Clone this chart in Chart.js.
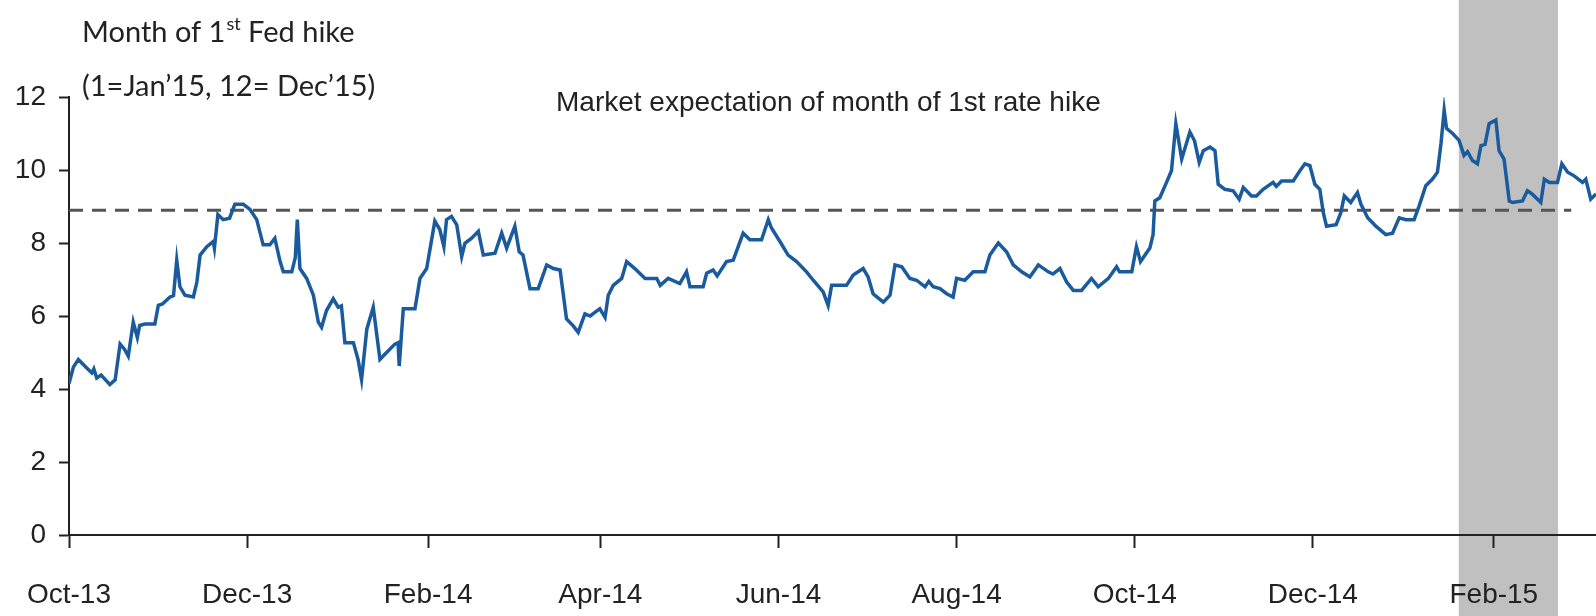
<!DOCTYPE html>
<html>
<head>
<meta charset="utf-8">
<script src="https://cdn.jsdelivr.net/npm/chart.js@4.4.1/dist/chart.umd.min.js"></script>
<style>
html,body{margin:0;padding:0;background:#fff;overflow:hidden}
#wrap{width:1596px;height:616px;position:relative;background:#fff}
</style>
</head>
<body>
<div id="wrap"><canvas id="c" width="1596" height="616"></canvas></div>
<script>
// x = days since 1 Oct 2013
const dayOffsets = [
  0,1.5,3.2,6,7.8,8.5,9.5,11,14,15.8,17.5,19,20.3,22,23.4,24.2,26,29.4,30.6,32,
  34.6,35.8,36.9,38,39.7,42.6,43.8,44.9,47.2,49.4,49.8,51,52.8,55,56.8,59.7,62,64.3,66.5,68.8,
  70.5,72.3,73.4,76.3,77.5,78.2,79.1,81.4,83.7,85.4,86.5,88.2,90.5,92.2,93.3,94.5,97.4,99,100.2,102,
  104.2,106.5,108.2,111.6,112.7,113.1,114.5,118.5,120.2,122.5,125.3,127,128.4,129.3,131,132.8,134.5,135.6,137.9,140.2,
  141.9,145.9,148.2,149.9,152.7,154.2,155.5,157.9,160.7,163.6,165.9,168.2,170.4,172.7,174.4,176.7,178.5,181.8,183.6,184.7,
  186.4,189.3,191,193.8,197.3,201.3,202.5,205.2,209.2,211.5,212.7,217.2,218.4,220.6,222,225.2,227.5,230.9,233.2,237.2,
  239.5,240.6,243.5,246.3,249.2,252.6,254.9,258.3,260,261.2,266.3,268.6,272,273.7,275.4,278.9,281.2,282.9,285.2,288,
  290.3,293.2,294.5,296,298.3,300.6,302.8,304,306.8,309.7,313.7,315.4,318.3,321.1,323.4,326.3,329.1,332,335.4,337,
  339.4,341.7,344,346.8,350.2,352.5,356,358.8,359.8,364,365.6,367,370.2,371.3,371.9,373.6,375.9,377.6,379.1,381.1,
  383.9,385.5,387.1,388.5,390.8,392.5,393.6,395.9,398.7,400.8,402.2,405,406.7,409,412.4,413.5,415.3,419.3,421.6,423.3,
  425,426.7,428.4,429.6,430.7,434,435.6,436.8,439,441.3,442.5,444.8,447.6,451,453.3,455.6,457.9,460.7,462.4,464.7,
  467,468.7,469.9,471,471.8,473.9,476.1,477.8,479,480.7,482.4,483.6,485,486.4,488.7,489.8,491.5,493.3,494.4,497.8,
  499.5,501,504.1,505.3,507,509.8,511.3,513.3,515.5,518.4,519.5,521.2,523
];
const expectedMonth = [
  4.15,4.6,4.81,4.58,4.44,4.55,4.30,4.38,4.12,4.25,5.23,5.09,4.90,5.83,5.41,5.74,5.78,5.78,6.29,6.33,
  6.52,6.56,7.53,6.80,6.57,6.52,6.93,7.67,7.90,8.04,7.86,8.78,8.64,8.68,9.06,9.06,8.92,8.64,7.95,7.95,
  8.13,7.49,7.21,7.21,7.6,8.64,7.30,7.03,6.57,5.83,5.69,6.15,6.47,6.24,6.28,5.27,5.27,4.81,4.26,5.64,
  6.24,4.81,4.95,5.23,5.27,4.63,6.20,6.20,7.03,7.30,8.60,8.37,7.90,8.64,8.73,8.50,7.63,7.99,8.13,8.32,
  7.67,7.72,8.27,7.86,8.46,7.76,7.67,6.75,6.75,7.40,7.30,7.26,5.92,5.73,5.55,6.06,6.00,6.20,5.96,6.57,
  6.84,7.03,7.49,7.30,7.03,7.03,6.84,7.03,6.89,7.21,6.80,6.80,7.17,7.26,7.10,7.49,7.53,8.27,8.09,8.09,
  8.64,8.41,8.04,7.67,7.49,7.21,6.98,6.66,6.29,6.84,6.84,7.12,7.30,7.07,6.61,6.38,6.57,7.40,7.35,7.03,
  6.98,6.80,6.95,6.80,6.75,6.61,6.52,7.03,6.98,7.21,7.21,7.67,8.00,7.76,7.40,7.21,7.07,7.40,7.21,7.15,
  7.30,6.93,6.70,6.70,7.03,6.80,7.03,7.35,7.21,7.21,7.90,7.49,7.86,8.23,9.15,9.24,9.66,9.98,11.27,10.30,
  11.04,10.80,10.21,10.53,10.63,10.53,9.61,9.47,9.43,9.20,9.52,9.29,9.29,9.47,9.66,9.55,9.70,9.70,9.98,10.17,
  10.12,9.61,9.47,8.83,8.46,8.50,8.83,9.29,9.11,9.38,9.06,8.69,8.46,8.23,8.27,8.69,8.64,8.64,9.01,9.57,
  9.75,9.94,10.72,11.64,11.14,11.00,10.81,10.40,10.50,10.26,10.17,10.67,10.70,11.27,11.37,10.53,10.30,9.15,9.11,9.15,
  9.43,9.35,9.11,9.75,9.66,9.66,10.17,9.94,9.84,9.66,9.75,9.20,9.34
];
const tickDays = [0, 61, 123, 182, 243, 304, 365, 426, 488];
const tickLabels = ['Oct-13','Dec-13','Feb-14','Apr-14','Jun-14','Aug-14','Oct-14','Dec-14','Feb-15'];
const yTicks = [0, 2, 4, 6, 8, 10, 12];
const referenceLevel = 8.9;
const referenceSpan = [0, 514.5];
const shadedSpan = [476, 510];
const titleLine1 = ['Month of 1', 'st', ' Fed hike'];
const titleLine2 = '(1=Jan\u201915, 12= Dec\u201915)';
const noteText = 'Market expectation of month of 1st rate hike';

function hasFont(name){
  const c = document.createElement('canvas').getContext('2d');
  const s = 'Oct-13 Market expectation';
  c.font = '40px monospace'; const a = c.measureText(s).width;
  c.font = '40px "' + name + '", monospace'; const b = c.measureText(s).width;
  return Math.abs(a - b) > 0.5;
}
const NARROW = hasFont('Liberation Sans Narrow');
const tickFamily = NARROW ? '"Liberation Sans Narrow", "Liberation Sans", Arial, sans-serif' : '"Liberation Sans", Arial, sans-serif';
const tickSize = NARROW ? 34 : 28;
const titleFamily = 'Lato, "Open Sans", sans-serif';
const textColor = '#222';

const bandPlugin = {
  id: 'band',
  beforeDraw(chart){
    const xs = chart.scales.x, ctx = chart.ctx;
    const x0 = xs.getPixelForValue(shadedSpan[0]);
    const x1 = xs.getPixelForValue(shadedSpan[1]);
    ctx.save();
    ctx.fillStyle = '#c0c0c0';
    ctx.fillRect(x0, 0, x1 - x0, chart.height);
    ctx.restore();
  }
};

const textPlugin = {
  id: 'texts',
  afterDraw(chart){
    const ctx = chart.ctx;
    ctx.save();
    ctx.fillStyle = textColor;
    ctx.textBaseline = 'alphabetic';
    ctx.textAlign = 'left';
    let x = 82;
    ctx.font = '29px ' + titleFamily;
    ctx.fillText(titleLine1[0], x, 42);
    x += ctx.measureText(titleLine1[0]).width + 1;
    ctx.font = '18px ' + titleFamily;
    ctx.fillText(titleLine1[1], x, 30);
    x += ctx.measureText(titleLine1[1]).width;
    ctx.font = '29px ' + titleFamily;
    ctx.fillText(titleLine1[2], x, 42);
    ctx.fillText(titleLine2, 82, 96);
    ctx.font = tickSize + 'px ' + tickFamily;
    ctx.fillText(noteText, 556, 111);
    ctx.restore();
  }
};

const ctx = document.getElementById('c').getContext('2d');
new Chart(ctx, {
  type: 'line',
  data: {
    datasets: [
      {
        data: dayOffsets.map((d, i) => ({x: d, y: expectedMonth[i]})),
        borderColor: '#1a5b9e',
        borderWidth: 3.5,
        pointRadius: 0,
        tension: 0,
        fill: false
      },
      {
        data: referenceSpan.map(d => ({x: d, y: referenceLevel})),
        borderColor: '#555555',
        borderWidth: 3,
        borderDash: [14, 9],
        pointRadius: 0,
        fill: false
      }
    ]
  },
  options: {
    responsive: false,
    animation: false,
    devicePixelRatio: 1,
    layout: {padding: {top: 97, left: 0, right: 0, bottom: 0}},
    plugins: {legend: {display: false}, tooltip: {enabled: false}, title: {display: false}},
    scales: {
      x: {
        type: 'linear',
        min: 0,
        max: 523,
        afterBuildTicks: s => { s.ticks = tickDays.map(v => ({value: v})); },
        afterFit: s => { s.height = 81; },
        ticks: {
          callback: v => tickLabels[tickDays.indexOf(v)],
          font: {family: tickFamily, size: tickSize, lineHeight: 1.8},
          color: textColor,
          padding: 22,
          maxRotation: 0,
          autoSkip: false
        },
        grid: {drawOnChartArea: false, drawTicks: true, tickLength: 13, tickWidth: 2, tickColor: '#222'},
        border: {display: true, color: '#222', width: 2}
      },
      y: {
        min: 0,
        max: 12,
        afterBuildTicks: s => { s.ticks = yTicks.map(v => ({value: v})); },
        afterFit: s => { s.width = 69; },
        ticks: {
          font: {family: tickFamily, size: tickSize},
          color: textColor,
          padding: 13
        },
        grid: {drawOnChartArea: false, drawTicks: true, tickLength: 10, tickWidth: 2, tickColor: '#222'},
        border: {display: true, color: '#222', width: 2}
      }
    }
  },
  plugins: [bandPlugin, textPlugin]
});
</script>
</body>
</html>
